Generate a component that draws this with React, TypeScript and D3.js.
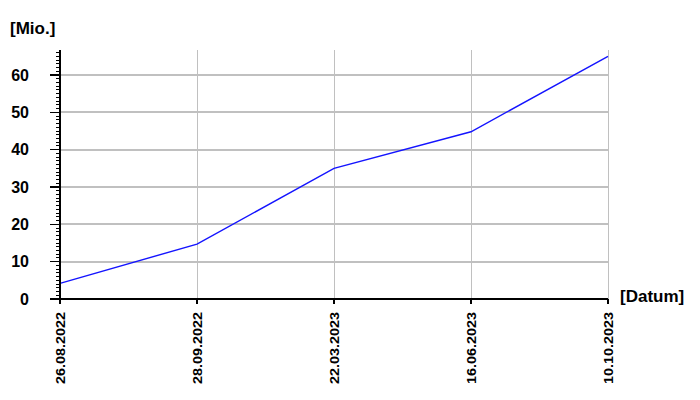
import React from "react";
import * as d3 from "d3";

const categories = ["26.08.2022", "28.09.2022", "22.03.2023", "16.06.2023", "10.10.2023"];
const values = [4.2, 14.7, 35, 44.8, 65];
const yTicks = [0, 10, 20, 30, 40, 50, 60];
const yLabel = "[Mio.]";
const xLabel = "[Datum]";

export default function App() {
  const W = 700, H = 400;
  const left = 60, right = 608, top = 50, bottom = 299;
  const yMax = 66.7;
  const x = d3.scalePoint<string>().domain(categories).range([left, right]);
  const y = d3.scaleLinear().domain([0, yMax]).range([bottom, top]);
  const line = d3.line<number>().x((_, i) => x(categories[i])!).y((d) => y(d));
  const minor = d3.range(0, Math.floor(yMax) + 1, 1);
  const font = "'Liberation Sans', Arial, sans-serif";
  return (
    <svg width={W} height={H} style={{ position: "absolute", left: 0, top: 0, background: "#fff" }} fontFamily={font}>
      {yTicks.filter((t) => t > 0).map((t) => (
        <line key={"hg" + t} x1={left} x2={right} y1={y(t)} y2={y(t)} stroke="#c0c0c0" strokeWidth={2} shapeRendering="crispEdges" />
      ))}
      {categories.slice(1).map((c) => (
        <line key={"vg" + c} x1={x(c)} x2={x(c)} y1={top} y2={bottom} stroke="#c0c0c0" strokeWidth={1} shapeRendering="crispEdges" />
      ))}
      <path d={line(values) || ""} fill="none" stroke="#1414ff" strokeWidth={1.4} />
      <line x1={left} x2={left} y1={top} y2={bottom} stroke="#000" strokeWidth={2} shapeRendering="crispEdges" />
      {minor.map((t) => (
        <line key={"mt" + t} x1={left - 4} x2={left} y1={y(t)} y2={y(t)} stroke="#000" strokeWidth={1} shapeRendering="crispEdges" />
      ))}
      {yTicks.map((t) => (
        <g key={"yt" + t}>
          <line x1={left - 10} x2={left} y1={y(t)} y2={y(t)} stroke="#000" strokeWidth={1.5} shapeRendering="crispEdges" />
          <text x={29} y={y(t)} dy="0.36em" textAnchor="end" fontSize={16} fontWeight="bold" fill="#000">{t}</text>
        </g>
      ))}
      <line x1={left} x2={right} y1={bottom} y2={bottom} stroke="#000" strokeWidth={2} shapeRendering="crispEdges" />
      {categories.map((c) => (
        <g key={"xt" + c}>
          <line x1={x(c)} x2={x(c)} y1={bottom} y2={bottom + 5} stroke="#000" strokeWidth={1.5} shapeRendering="crispEdges" />
          <text transform={`translate(${x(c)},${bottom + 13}) rotate(-90)`} dy="0.36em" textAnchor="end" fontSize={12.5} fontWeight="bold" textLength={72} lengthAdjust="spacingAndGlyphs" fill="#000">{c}</text>
        </g>
      ))}
      <text x={10} y={34} fontSize={17} fontWeight="bold" fill="#000">{yLabel}</text>
      <text x={620} y={302} fontSize={17} fontWeight="bold" fill="#000">{xLabel}</text>
    </svg>
  );
}
